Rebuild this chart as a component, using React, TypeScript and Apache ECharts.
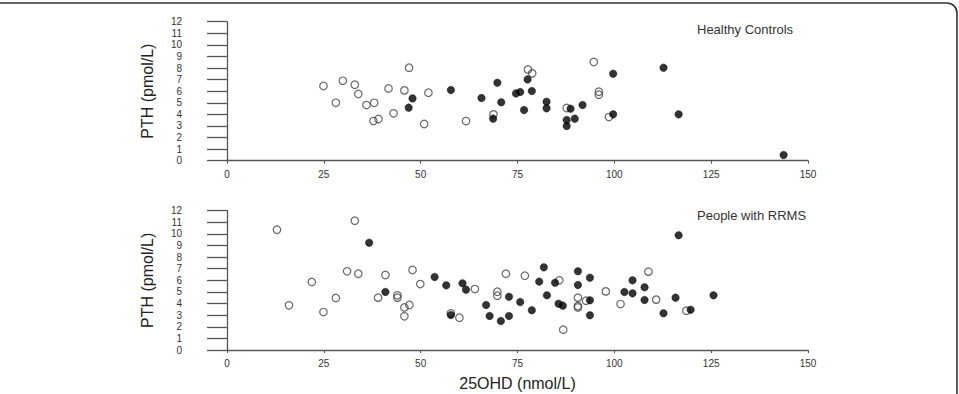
import React, { useEffect, useRef } from "react";
import * as echarts from "echarts";

// 25OHD (nmol/L) vs PTH (pmol/L), open and filled markers per cohort
const controlsOpen: [number, number][] = [
  [24.9, 6.45], [28.1, 5.0], [29.9, 6.9], [33.0, 6.56], [33.9, 5.76], [36.0, 4.8],
  [38.0, 5.0], [37.8, 3.42], [39.1, 3.6], [41.7, 6.24], [43.0, 4.09], [45.8, 6.07],
  [47.0, 8.03], [52.0, 5.87], [50.9, 3.17], [61.7, 3.42], [68.8, 4.0], [77.7, 7.88],
  [78.8, 7.54], [87.7, 4.55], [94.7, 8.52], [96.0, 5.96], [96.0, 5.7], [98.6, 3.77],
];

const controlsFilled: [number, number][] = [
  [46.9, 4.58], [47.9, 5.38], [57.8, 6.1], [65.7, 5.41], [68.7, 3.63], [69.8, 6.73],
  [70.8, 5.04], [74.6, 5.81], [75.7, 5.93], [76.7, 4.37], [77.6, 7.02], [78.7, 6.01],
  [82.5, 5.09], [82.5, 4.52], [88.7, 4.49], [87.7, 3.51], [87.7, 2.99], [89.8, 3.63],
  [91.8, 4.81], [99.7, 7.51], [99.7, 4.0], [112.7, 8.03], [116.6, 4.0], [143.7, 0.49],
];

const rrmsOpen: [number, number][] = [
  [12.9, 10.36], [16.0, 3.85], [21.9, 5.86], [24.9, 3.27], [28.1, 4.48], [31.0, 6.78],
  [33.0, 11.14], [33.9, 6.57], [39.0, 4.51], [40.9, 6.46], [44.0, 4.71], [44.0, 4.51],
  [45.8, 3.67], [45.8, 2.9], [47.1, 3.88], [47.9, 6.89], [49.9, 5.68], [57.8, 3.16],
  [60.0, 2.78], [64.0, 5.25], [69.8, 5.02], [69.8, 4.68], [72.0, 6.57], [76.9, 6.4],
  [85.8, 6.0], [86.8, 1.75], [90.6, 4.51], [90.6, 3.79], [90.6, 3.67], [92.7, 4.25],
  [97.8, 5.05], [101.6, 3.96], [108.8, 6.75], [110.8, 4.34], [118.6, 3.39],
];

const rrmsFilled: [number, number][] = [
  [36.7, 9.24], [40.9, 5.0], [53.6, 6.29], [56.6, 5.57], [57.8, 3.01], [60.8, 5.74],
  [61.7, 5.2], [66.9, 3.88], [67.8, 2.93], [70.7, 2.5], [72.8, 4.59], [72.8, 2.93],
  [75.7, 4.13], [78.7, 3.42], [80.6, 5.89], [81.8, 7.12], [82.6, 4.71], [84.7, 5.8],
  [85.6, 3.99], [86.7, 3.82], [90.6, 6.78], [90.6, 5.6], [93.7, 6.23], [93.7, 4.28],
  [93.7, 2.99], [102.6, 5.0], [104.7, 6.0], [104.7, 4.88], [107.8, 5.4], [107.8, 4.31],
  [112.7, 3.16], [115.8, 4.51], [116.6, 9.88], [119.7, 3.47], [125.6, 4.71],
];

const panelTitles = ["Healthy Controls", "People with RRMS"];
const xTitle = "25OHD (nmol/L)";
const yTitle = "PTH (pmol/L)";

const AXIS_COLOR = "#555";
const TEXT_COLOR = "#333";
const NARROW = '"Liberation Sans Narrow", "Arial Narrow", "Liberation Sans", Arial, sans-serif';
const SANS = '"Liberation Sans", Arial, sans-serif';

export default function App() {
  const ref = useRef<HTMLDivElement>(null);

  useEffect(() => {
    document.body.style.margin = "0";
    if (!ref.current) return;
    const chart = echarts.init(ref.current, null, { renderer: "svg" });

    const xAxisBase = (gridIndex: number, withName: boolean) => ({
      type: "value",
      gridIndex,
      min: 0,
      max: 150,
      interval: 25,
      offset: 3.5,
      splitLine: { show: false },
      axisLine: { show: true, lineStyle: { color: AXIS_COLOR, width: 1.3 } },
      axisTick: { show: true, length: 3, lineStyle: { color: AXIS_COLOR, width: 1 } },
      axisLabel: { margin: 5, color: TEXT_COLOR, fontFamily: NARROW, fontSize: 10 },
      name: withName ? xTitle : "",
      nameLocation: "middle",
      nameGap: 22,
      nameTextStyle: { color: "#222", fontFamily: SANS, fontSize: 16 },
    });

    const yAxisBase = (gridIndex: number) => ({
      type: "value",
      gridIndex,
      min: 0,
      max: 12,
      interval: 1,
      offset: 9,
      splitLine: { show: false },
      axisLine: { show: true, lineStyle: { color: AXIS_COLOR, width: 1.3 } },
      axisTick: { show: true, length: 20, lineStyle: { color: AXIS_COLOR, width: 1.3 } },
      axisLabel: { margin: 36, color: TEXT_COLOR, fontFamily: NARROW, fontSize: 10 },
      name: yTitle,
      nameLocation: "middle",
      nameGap: 63,
      nameTextStyle: { color: "#222", fontFamily: SANS, fontSize: 16 },
    });

    const openStyle = {
      color: "rgba(0,0,0,0)",
      borderColor: "#444",
      borderWidth: 1.2,
    };
    const filledStyle = { color: "#000", borderColor: "#000", borderWidth: 0.5 };

    const scatter = (data: [number, number][], idx: number, style: any) => ({
      type: "scatter",
      xAxisIndex: idx,
      yAxisIndex: idx,
      data,
      symbol: "circle",
      symbolSize: 7.5,
      itemStyle: style,
      silent: true,
      emphasis: { disabled: true },
    });

    chart.setOption({
      animation: false,
      backgroundColor: "#fff",
      title: [
        {
          text: panelTitles[0],
          left: 697,
          top: 23,
          textStyle: { color: TEXT_COLOR, fontFamily: SANS, fontSize: 13, fontWeight: "normal" },
          padding: 0,
        },
        {
          text: panelTitles[1],
          left: 697,
          top: 209,
          textStyle: { color: TEXT_COLOR, fontFamily: SANS, fontSize: 13, fontWeight: "normal" },
          padding: 0,
        },
      ],
      grid: [
        { left: 227, width: 581, top: 21.7, height: 139 },
        { left: 227, width: 581, top: 210.7, height: 139.3 },
      ],
      xAxis: [xAxisBase(0, false), xAxisBase(1, true)],
      yAxis: [yAxisBase(0), yAxisBase(1)],
      series: [
        scatter(controlsOpen, 0, openStyle),
        scatter(controlsFilled, 0, filledStyle),
        scatter(rrmsOpen, 1, openStyle),
        scatter(rrmsFilled, 1, filledStyle),
      ],
      graphic: [
        {
          type: "rect",
          silent: true,
          shape: { x: -20, y: 3, width: 977, height: 440, r: 10 },
          style: { fill: "none", stroke: "#333", lineWidth: 1.6 },
        },
      ],
    });

    return () => chart.dispose();
  }, []);

  return <div ref={ref} style={{ width: 959, height: 394 }} />;
}
